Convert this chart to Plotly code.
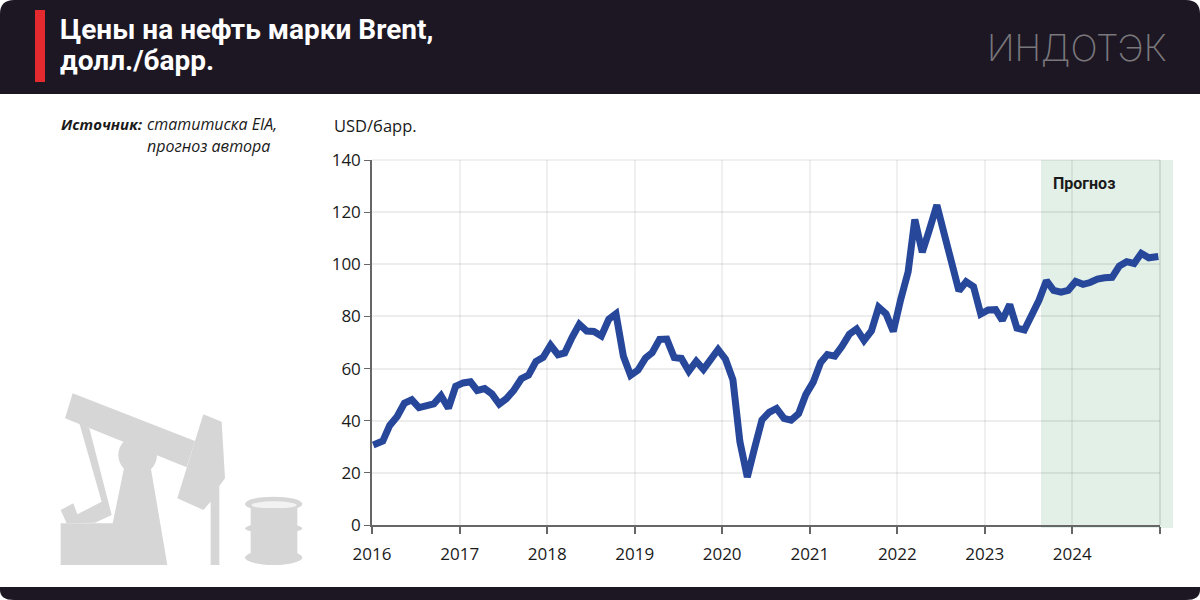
import plotly.graph_objects as go

# monthly Brent, Jan 2016 - Dec 2024
brent_2016 = [30.7, 32.2, 38.2, 41.6, 46.7, 48.0, 45.0, 45.8, 46.5, 49.6, 44.8, 53.2]
brent_2017 = [54.5, 54.9, 51.6, 52.3, 50.3, 46.4, 48.5, 51.7, 56.1, 57.5, 62.7, 64.3]
brent_2018 = [69.0, 65.3, 66.0, 72.0, 77.0, 74.4, 74.2, 72.5, 78.9, 81.0, 64.7, 57.4]
brent_2019 = [59.4, 64.0, 66.1, 71.2, 71.3, 64.2, 63.9, 59.0, 62.8, 59.7, 63.2, 67.3]
brent_2020 = [63.6, 55.7, 32.0, 18.4, 29.4, 40.3, 43.2, 44.7, 40.9, 40.2, 42.7, 50.0]
brent_2021 = [54.8, 62.3, 65.4, 64.8, 68.5, 73.2, 75.2, 70.8, 74.5, 83.5, 81.0, 74.2]
brent_2022 = [86.5, 97.1, 117.2, 104.6, 113.3, 122.7, 111.9, 100.4, 89.8, 93.3, 91.4, 80.9]
brent_2023 = [82.5, 82.6, 78.5, 84.6, 75.5, 74.8, 80.1, 86.2, 93.7, 90.0, 89.3, 90.0]
brent_2024 = [93.4, 92.3, 93.0, 94.3, 94.8, 95.0, 99.3, 101.0, 100.3, 104.2, 102.5, 103.0]
year_series = [brent_2016, brent_2017, brent_2018, brent_2019, brent_2020,
               brent_2021, brent_2022, brent_2023, brent_2024]

tick_years = ["2016", "2017", "2018", "2019", "2020", "2021", "2022", "2023", "2024", "2025"]
tick_labels = ["2016", "2017", "2018", "2019", "2020", "2021", "2022", "2023", "2024", ""]
y_ticks = [0, 20, 40, 60, 80, 100, 120, 140]

dates, prices = [], []
for year, vals in zip(tick_years, year_series):
    for m, v in enumerate(vals):
        dates.append(f"{year}-{m + 1:02d}-15")
        prices.append(v)
# the line runs almost to the ends of the axis
dates[0] = "2016-01-06"
dates[-1] = "2024-12-25"

# plot box in page pixels
L, R, T, B = 372, 1160, 160, 525
DARK = "#1c1723"
GREY = "#d6d6d6"
SANS = "Open Sans"


def px(x):
    return (x - L) / (R - L)


def py(y):
    return (B - y) / (B - T)


def poly(points, color):
    d = "M" + " L".join(f"{px(x):.5f},{py(y):.5f}" for x, y in points) + " Z"
    return dict(type="path", xref="paper", yref="paper", path=d,
                fillcolor=color, line_width=0, layer="below")


def box(x0, y0, x1, y1, color, kind="rect"):
    return dict(type=kind, xref="paper", yref="paper", x0=px(x0), x1=px(x1),
                y0=py(y0), y1=py(y1), fillcolor=color, line_width=0, layer="below")


def label(x, y, text, size, color="#1a1a1a", anchor="left", family=SANS, **kw):
    return dict(xref="paper", yref="paper", x=px(x), y=py(y), text=text, showarrow=False,
                xanchor=anchor, yanchor="middle", align=anchor,
                font=dict(size=size, color=color, family=family, **kw))


# rounded header and footer bands
header = ("M" + f"{px(0)},{py(94)} L{px(0)},{py(14)} Q{px(0)},{py(0)} {px(14)},{py(0)} "
          f"L{px(1186)},{py(0)} Q{px(1200)},{py(0)} {px(1200)},{py(14)} L{px(1200)},{py(94)} Z")
footer = ("M" + f"{px(0)},{py(587)} L{px(1200)},{py(587)} L{px(1200)},{py(590)} "
          f"Q{px(1200)},{py(600)} {px(1186)},{py(600)} L{px(14)},{py(600)} "
          f"Q{px(0)},{py(600)} {px(0)},{py(590)} Z")
shapes = [
    dict(type="path", xref="paper", yref="paper", path=header, fillcolor=DARK, line_width=0, layer="below"),
    dict(type="path", xref="paper", yref="paper", path=footer, fillcolor=DARK, line_width=0, layer="below"),
    box(35, 10, 45, 82, "#e42a2f"),
    box(1041, 160, 1173, 528, "#e2f0e7"),
    # plotly leaves out the grid lines that fall on the edge of the range
    dict(type="line", xref="paper", yref="paper", x0=0, x1=1, y0=1, y1=1,
         line=dict(color="rgba(0,0,0,0.08)", width=1.5), layer="below"),
    dict(type="line", xref="paper", yref="paper", x0=1, x1=1, y0=0, y1=1,
         line=dict(color="rgba(0,0,0,0.13)", width=1.5), layer="below"),
]


# pump jack, outlined in the coordinates of a 3x crop at (30, 380)
def crop(points):
    return [(30 + x / 3, 380 + y / 3) for x, y in points]


shapes += [
    poly(crop([(128, 40), (495, 183), (470, 262), (105, 115)]), GREY),
    poly(crop([(520, 103), (575, 125), (585, 295), (568, 318), (542, 365), (520, 390),
               (442, 355), (495, 183)]), GREY),
    poly(crop([(542, 355), (568, 318), (568, 555), (542, 555)]), GREY),
    poly(crop([(285, 250), (360, 250), (412, 555), (92, 555), (92, 430), (248, 430)]), GREY),
    poly(crop([(92, 390), (130, 370), (142, 403), (215, 365), (148, 130), (178, 145),
               (245, 405), (195, 428), (110, 430)]), GREY),
    box(30 + 265 / 3, 380 + 167 / 3, 30 + 381 / 3, 380 + 283 / 3, GREY, "circle"),
    # barrel
    box(30 + 645 / 3, 380 + 350 / 3, 30 + 817 / 3, 380 + 394 / 3, GREY, "circle"),
    box(30 + 665 / 3, 380 + 364 / 3, 30 + 800 / 3, 380 + 386 / 3, "#f2f2f2", "circle"),
    box(30 + 662 / 3, 380 + 384 / 3, 30 + 802 / 3, 380 + 535 / 3, GREY),
    box(30 + 645 / 3, 380 + 430 / 3, 30 + 817 / 3, 380 + 460 / 3, GREY, "circle"),
    box(30 + 645 / 3, 380 + 510 / 3, 30 + 817 / 3, 380 + 555 / 3, GREY, "circle"),
]

annotations = [
    label(58, 30, "<b>Цены на нефть марки Brent,</b>", 28, "#ffffff", family="Roboto"),
    label(58, 60, "<b>долл./барр.</b>", 28, "#ffffff", family="Roboto"),
    label(985, 48, "ИНДОТЭК", 36, "#7a777c", family="Inter", weight=200),
    label(59, 124, "<b><i>Источник:</i></b>", 15),
    label(145, 124, "<i>статитиска EIA,</i>", 16),
    label(145, 146, "<i>прогноз автора</i>", 16),
    label(332, 126, "USD/барр.", 16.5),
    label(1051, 184, "<b>Прогноз</b>", 16, family="Roboto"),
]

fig = go.Figure(go.Scatter(
    x=dates, y=prices, mode="lines",
    line=dict(color="#27479b", width=7),
    showlegend=False, hoverinfo="skip",
))
fig.update_layout(
    width=1200, height=600,
    margin=dict(l=L, r=1200 - R, t=T, b=600 - B),
    paper_bgcolor="white", plot_bgcolor="rgba(0,0,0,0)",
    font=dict(family=SANS, size=17, color="#1a1a1a"),
    shapes=shapes, annotations=annotations,
)
fig.update_xaxes(
    type="date", range=["2016-01-01", "2025-01-01"],
    tickvals=[f"{y}-01-01" for y in tick_years], ticktext=tick_labels,
    ticks="outside", ticklen=7, tickwidth=1.5, tickcolor="#666666", ticklabelstandoff=6,
    showline=True, linecolor="#666666", linewidth=1.5,
    showgrid=True, gridcolor="rgba(0,0,0,0.06)", gridwidth=2, zeroline=False,
)
fig.update_yaxes(
    range=[0, 140], tickvals=y_ticks,
    ticks="outside", ticklen=6, tickwidth=1, tickcolor="#666666",
    showline=True, linecolor="#666666", linewidth=1.5,
    showgrid=True, gridcolor="rgba(0,0,0,0.07)", gridwidth=1.5, zeroline=False,
)

# drop the default page margin so the figure sits at the window corner
fig.write_html("out.html", config={"displayModeBar": False},
               post_script="document.body.style.margin='0';")
